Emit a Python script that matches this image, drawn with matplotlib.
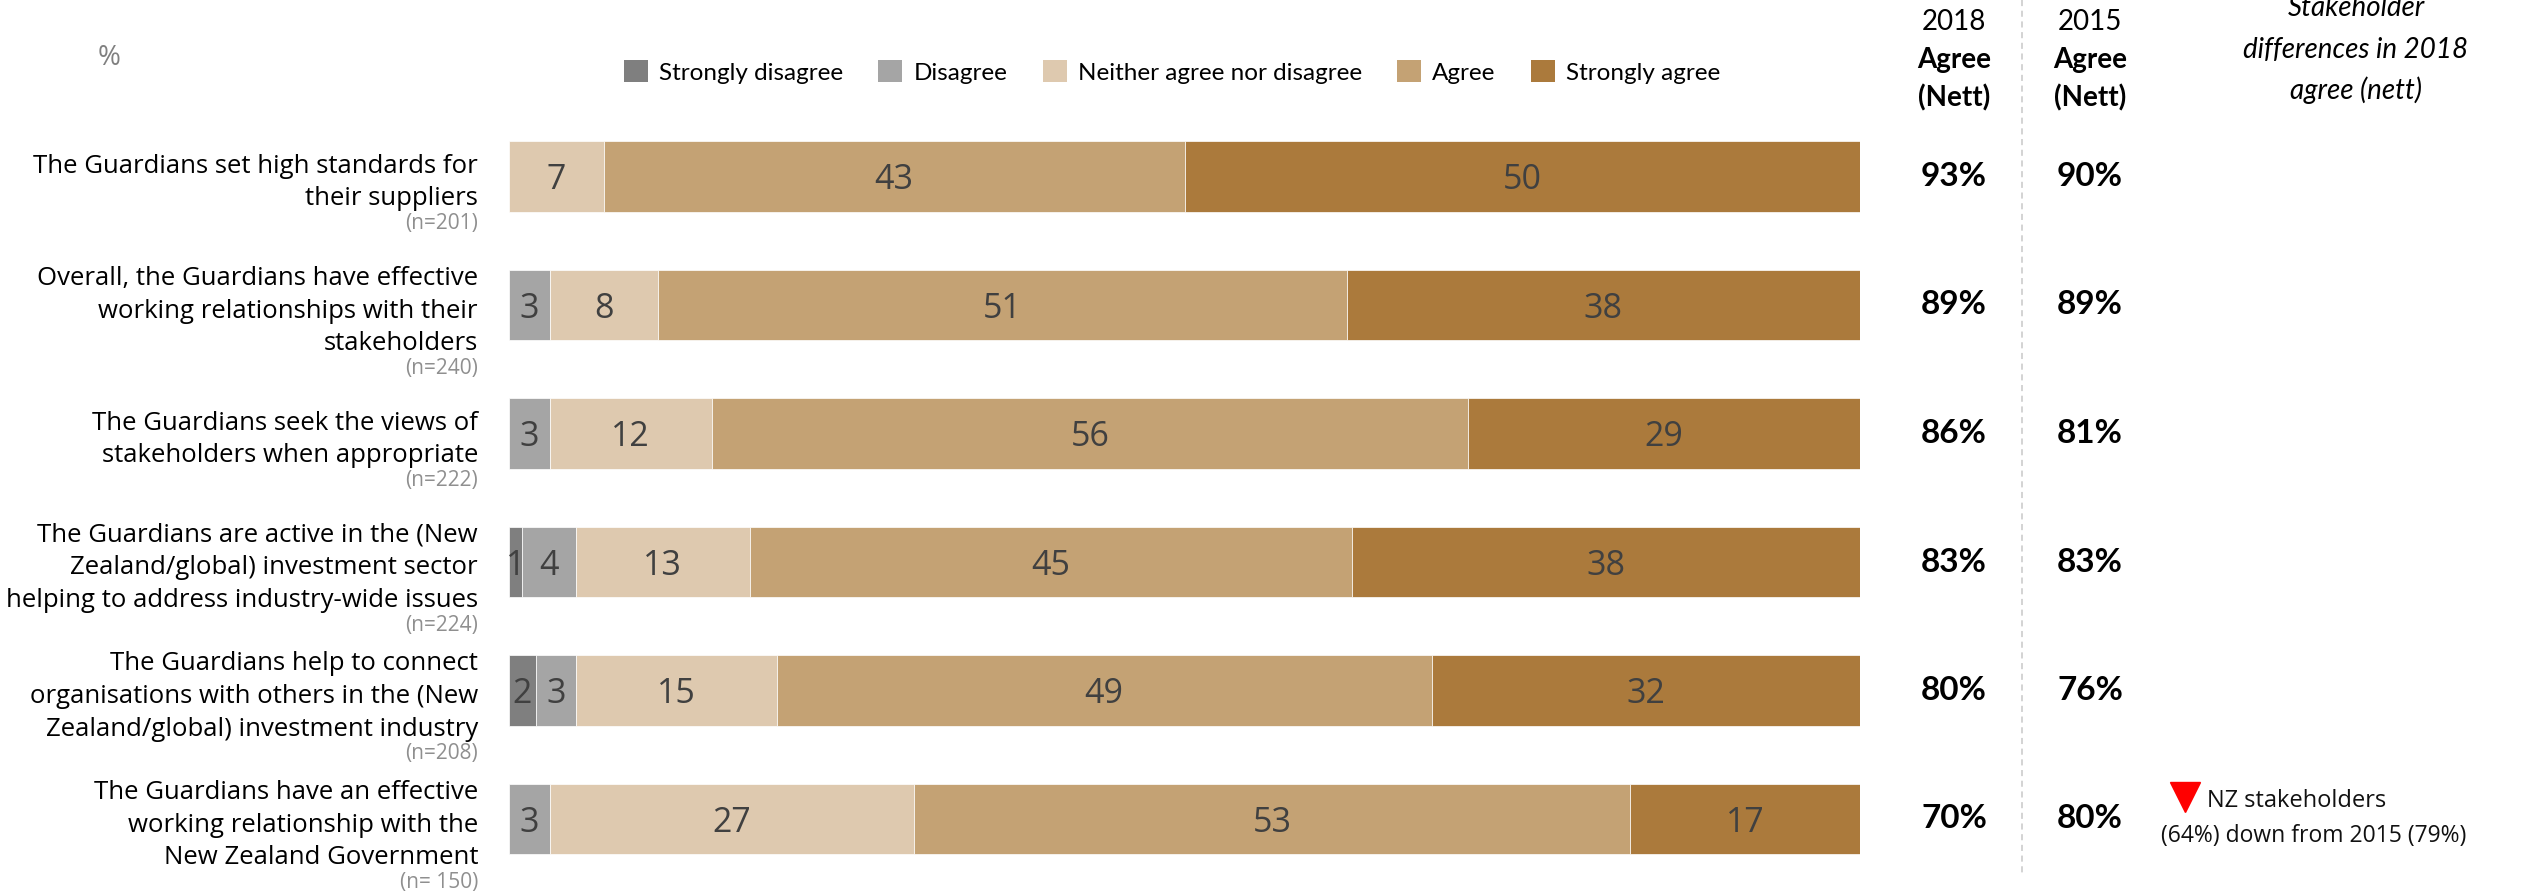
import matplotlib
matplotlib.use("Agg")
import matplotlib.pyplot as plt
import matplotlib.transforms as mtransforms
from matplotlib.lines import Line2D
from matplotlib.patches import Patch
import numpy as np

W, H, DPI = 2521, 893, 100

# ---------------- data ----------------
categories = [
    "The Guardians set high standards for\ntheir suppliers",
    "Overall, the Guardians have effective\nworking relationships with their\nstakeholders",
    "The Guardians seek the views of\nstakeholders when appropriate",
    "The Guardians are active in the (New\nZealand/global) investment sector\nhelping to address industry-wide issues",
    "The Guardians help to connect\norganisations with others in the (New\nZealand/global) investment industry",
    "The Guardians have an effective\nworking relationship with the\nNew Zealand Government",
]
sample_sizes = ["(n=201)", "(n=240)", "(n=222)", "(n=224)", "(n=208)", "(n= 150)"]
series_names = ["Strongly disagree", "Disagree", "Neither agree nor disagree",
                "Agree", "Strongly agree"]
strongly_disagree = [0, 0, 0, 1, 2, 0]
disagree = [0, 3, 3, 4, 3, 3]
neither = [7, 8, 12, 13, 15, 27]
agree = [43, 51, 56, 45, 49, 53]
strongly_agree = [50, 38, 29, 38, 32, 17]
agree_nett_2018 = ["93%", "89%", "86%", "83%", "80%", "70%"]
agree_nett_2015 = ["90%", "89%", "81%", "83%", "76%", "80%"]
colors = ["#7f7f7f", "#a5a5a5", "#dec9af", "#c4a274", "#ab7a3c"]

series = [strongly_disagree, disagree, neither, agree, strongly_agree]

LABEL_FONT = "Open Sans"
HEAD_FONT = "Lato"

def fx(px):
    return px / W

def fy(py):
    return 1 - py / H

fig = plt.figure(figsize=(W / DPI, H / DPI), dpi=DPI)
fig.patch.set_facecolor("white")

# bar axes
ax = fig.add_axes([fx(509), fy(883.25), 1351 / W, 771 / H])
ax.set_xlim(0, 100)
ax.set_ylim(len(categories) - 0.5, -0.5)
ax.axis("off")

ypos = np.arange(len(categories))
vals = np.array(series, dtype=float)
totals = vals.sum(axis=0)
shares = vals / totals * 100.0
left = np.zeros(len(categories))
for k, name in enumerate(series_names):
    ax.barh(ypos, shares[k], left=left, height=0.55, color=colors[k],
            edgecolor="white", linewidth=0.5, label=name)
    for i in range(len(categories)):
        v = series[k][i]
        if v > 0:
            ax.text(left[i] + shares[k][i] / 2, i + 0.03, str(v), ha="center",
                    va="center", fontsize=24.5, color="#404040",
                    family=LABEL_FONT)
    left += shares[k]

blend = mtransforms.blended_transform_factory(fig.transFigure, ax.transData)
blend_down = blend + mtransforms.ScaledTranslation(0, -6 / DPI,
                                                   fig.dpi_scale_trans)

# category labels + sample sizes
for i, (cat, n) in enumerate(zip(categories, sample_sizes)):
    t = fig.text(fx(478), i, cat, transform=blend_down, ha="right",
                 va="center", fontsize=18.5, family=LABEL_FONT,
                 color="#000000", linespacing=1.42, multialignment="right")
    ax.annotate(n, xy=(1, 0), xycoords=t, xytext=(0, -1),
                textcoords="offset points", ha="right", va="top",
                fontsize=15, family=LABEL_FONT, color="#8f8f8f",
                annotation_clip=False)

# nett columns
for i in range(len(categories)):
    fig.text(fx(1954), i, agree_nett_2018[i], transform=blend, ha="center",
             va="center", fontsize=24, weight="bold", family=HEAD_FONT)
    fig.text(fx(2090), i, agree_nett_2015[i], transform=blend, ha="center",
             va="center", fontsize=24, weight="bold", family=HEAD_FONT)

# column headers
for xc, yr in [(1954, "2018"), (2090, "2015")]:
    fig.text(fx(xc), fy(22), yr, ha="center", va="center", fontsize=20,
             family=HEAD_FONT)
    fig.text(fx(xc), fy(60), "Agree", ha="center", va="center", fontsize=20,
             weight="bold", family=HEAD_FONT)
    fig.text(fx(xc), fy(98), "(Nett)", ha="center", va="center", fontsize=20,
             weight="bold", family=HEAD_FONT)

for yy, line in [(8, "Stakeholder"), (50, "differences in 2018"),
                 (90, "agree (nett)")]:
    fig.text(fx(2356), fy(yy), line, ha="center", va="center", fontsize=20,
             style="italic", family=HEAD_FONT)

# dashed separator
fig.add_artist(Line2D([fx(2022), fx(2022)], [1, fy(876)],
                      transform=fig.transFigure, color="#c8c8c8",
                      linewidth=1.1, linestyle=(0, (4, 3))))

# percent marker
fig.text(fx(109), fy(58), "%", ha="center", va="center", fontsize=20,
         family=LABEL_FONT, color="#808080")

# annotation for last row
fig.add_artist(Line2D([fx(2185)], [fy(797)], transform=fig.transFigure,
                      marker="v", markersize=21, color="#ff0000",
                      linestyle="none"))
fig.text(fx(2207), fy(801), "NZ stakeholders", ha="left", va="center",
         fontsize=17, family=LABEL_FONT, color="#111111")
fig.text(fx(2314), fy(836), "(64%) down from 2015 (79%)", ha="center",
         va="center", fontsize=16.5, family=LABEL_FONT, color="#111111")

# legend
handles = [Patch(facecolor=c, edgecolor="none", label=n)
           for c, n in zip(colors, series_names)]
fig.legend(handles=handles, loc="center", bbox_to_anchor=(fx(1172), fy(72)),
           ncol=5, frameon=False, prop={"family": HEAD_FONT, "size": 17.5},
           handlelength=1.0, handleheight=1.0, handletextpad=0.45,
           columnspacing=1.45, borderaxespad=0, borderpad=0)

fig.savefig("out.png", dpi=DPI, facecolor="white")
